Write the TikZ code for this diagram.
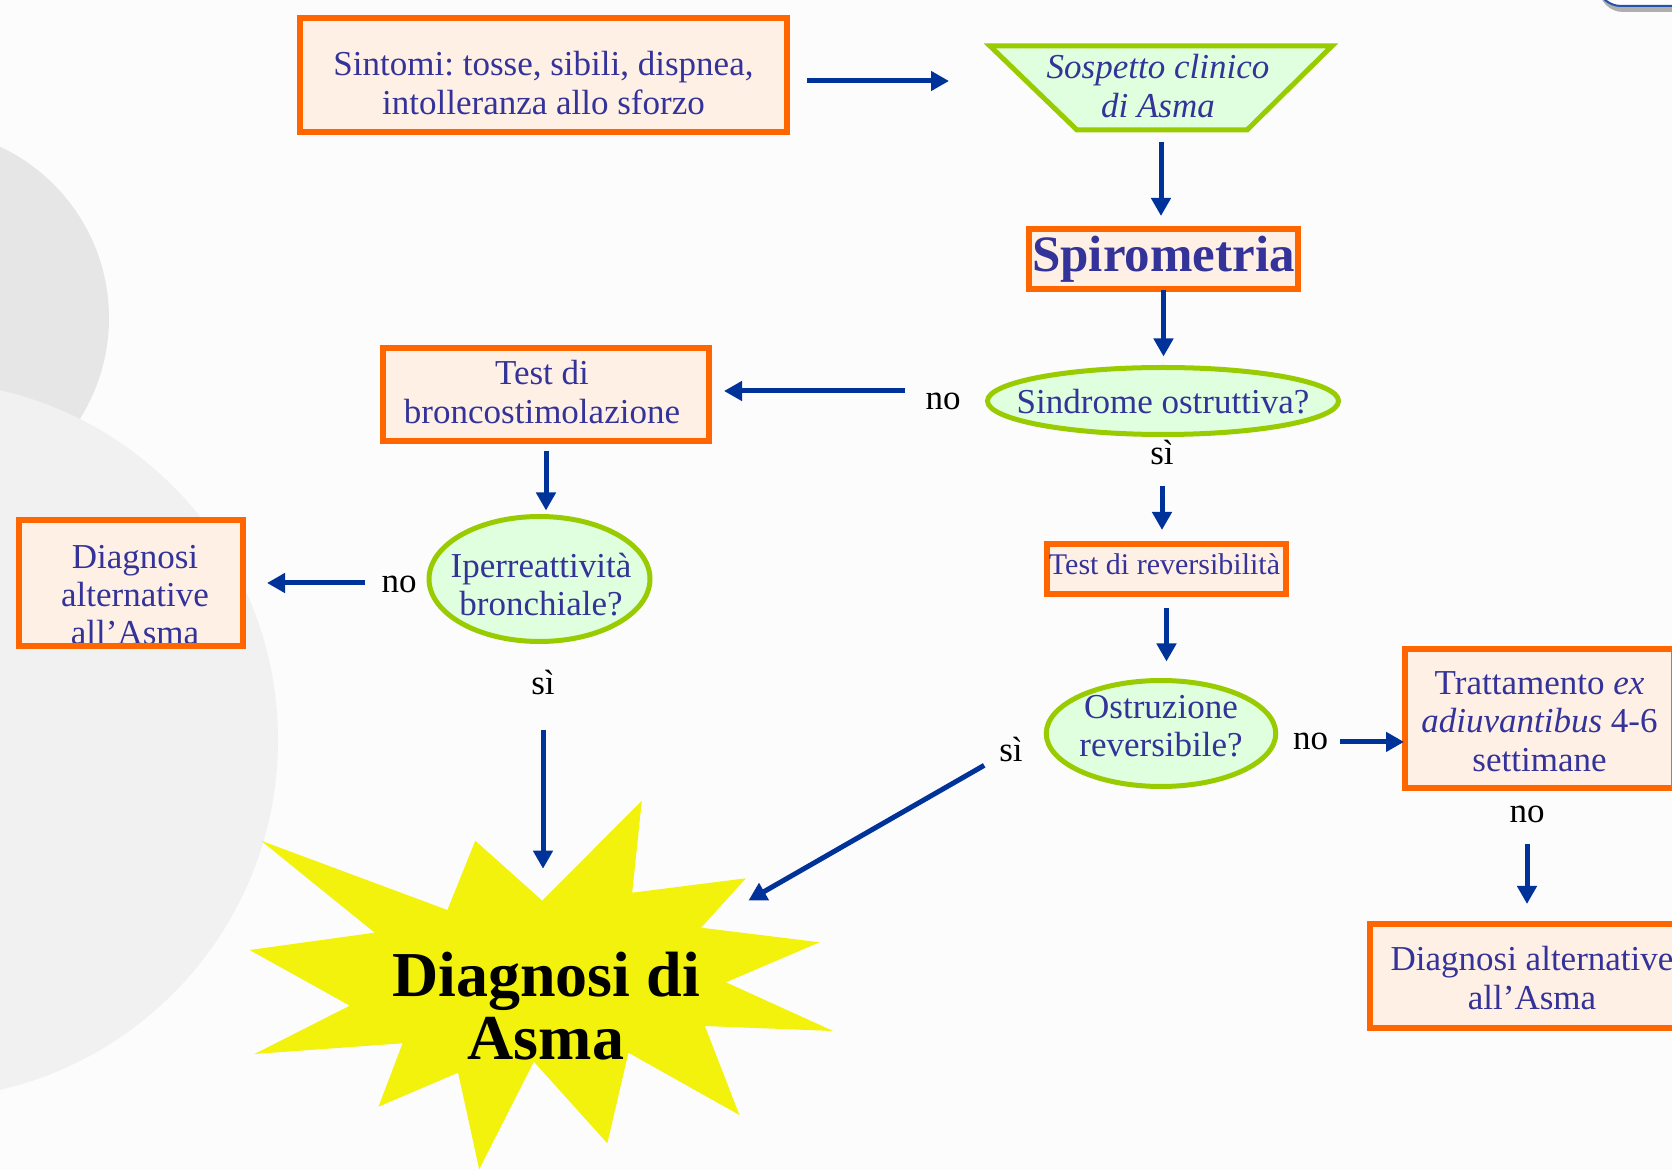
\documentclass[tikz,border=0pt]{standalone}
\usepackage{fontspec}
\setmainfont{Liberation Serif}
\usetikzlibrary{arrows.meta,shapes.geometric,shadows}
\definecolor{txtblue}{HTML}{333399}
\definecolor{arrblue}{HTML}{003399}
\definecolor{borange}{HTML}{FF6600}
\definecolor{peach}{HTML}{FFF0E6}
\definecolor{lgreen}{HTML}{DFFFDF}
\definecolor{ggreen}{HTML}{99CC00}
\definecolor{burstcol}{HTML}{F2F20C}
\definecolor{bgcol}{HTML}{FCFCFC}
\definecolor{circA}{HTML}{E6E6E6}
\definecolor{circB}{HTML}{F1F1F1}
\frenchspacing
\newcommand\bdfont{\fontsize{17.5}{19.2}\selectfont}
\newcommand\spirofont{\fontsize{25.5}{28}\selectfont\bfseries}
\newcommand\revfont{\fontsize{15}{17}\selectfont}
\newcommand\burstfont{\fontsize{32}{31.5}\selectfont\bfseries}
\begin{document}
\begin{tikzpicture}[x=0.5pt,y=-0.5pt,
  obox/.style={draw=borange, line width=2.75pt, fill=peach, inner sep=0pt, outer sep=0pt, align=center, text=txtblue, font=\bdfont},
  gell/.style={ellipse, draw=ggreen, line width=2.5pt, fill=lgreen, inner sep=0pt, outer sep=0pt},
  tx/.style={align=center, text=txtblue, font=\bdfont, inner sep=0pt},
  lab/.style={font=\bdfont, text=black, inner sep=0pt, anchor=base},
  arr/.style={draw=arrblue, line width=2.5pt, -{Triangle[length=9pt,width=9.5pt]}}
]
% background
\fill[bgcol] (0,0) rectangle (1672,1170);
\useasboundingbox (0,0) rectangle (1672,1170);
\clip (0,0) rectangle (1672,1170);
\fill[circA] (-80,318) circle (189);
\fill[circB] (-81,740) circle (359);
\draw[draw=arrblue!85, line width=1pt, fill=white, rounded corners=12pt,
  drop shadow={shadow xshift=1pt, shadow yshift=-3pt, fill=black, opacity=0.3}]
  (1597,-100) rectangle (1720,6);

% boxes
\node[obox, minimum width=243.5pt, minimum height=57pt] (sint) at (543.5,75) {};
\node[tx] at (543.5,83) {Sintomi: tosse, sibili, dispnea,\\intolleranza allo sforzo};

\node[minimum width=171pt, minimum height=42pt, inner sep=0pt, outer sep=0pt] (sosp) at (1161,88) {};
\filldraw[draw=ggreen, fill=lgreen, line width=2.5pt, line join=miter]
  (sosp.north west) -- (sosp.north east) -- ([xshift=-42.5pt]sosp.south east)
  -- ([xshift=43.5pt]sosp.south west) -- cycle;
\node[tx, font=\bdfont\itshape] at (1158,86) {Sospetto clinico\\di Asma};

\node[obox, font=\spirofont, minimum width=134.5pt, minimum height=30pt] (spiro) at (1163.5,259) {Spirometria};

\node[gell, minimum width=175.5pt, minimum height=33.5pt] (sind) at (1163,401) {};
\node[tx] at (1163,402) {Sindrome ostruttiva?};

\node[obox, minimum width=163pt, minimum height=46.5pt] (bronco) at (546,394.5) {};
\node[tx] at (542,392) {Test di\\broncostimolazione};

\node[gell, minimum width=110.5pt, minimum height=62.5pt] (iper) at (539.5,579) {};
\node[tx] at (541,584.5) {Iperreattività\\bronchiale?};

\node[obox, minimum width=112pt, minimum height=63pt] (alt1) at (131,583) {};
\node[tx] at (135,595) {Diagnosi\\alternative\\all’Asma};
\draw[draw=borange, line width=2.75pt] (alt1.south west) rectangle (alt1.north east);

\node[obox, minimum width=119.5pt, minimum height=25pt] (rev) at (1166.5,569) {};
\node[tx, font=\revfont] at (1164.5,564) {Test di reversibilità};

\node[gell, minimum width=114.75pt, minimum height=53pt] (ostr) at (1161,733.5) {};
\node[tx] at (1161,726) {Ostruzione\\reversibile?};

\node[obox, minimum width=134.5pt, minimum height=69.5pt] (tratt) at (1539.5,718.5) {};
\node[tx] at (1539.5,721.5) {Trattamento \textit{ex}\\\textit{adiuvantibus} 4-6\\settimane};

\node[obox, minimum width=162pt, minimum height=52pt] (alt2) at (1532,976) {};
\node[tx] at (1532,978) {Diagnosi alternative\\all’Asma};

% starburst
\fill[burstcol] (261,840.7) coordinate (b1) -- (374.7,932.7) coordinate (b2)
  -- (249.6,950) coordinate (b3) -- (349.8,1005.7) coordinate (b4)
  -- (254.5,1054) coordinate (b5) -- (402.6,1043.3) coordinate (b6)
  -- (378.5,1106.7) coordinate (b7) -- (458.1,1072.7) coordinate (b8)
  -- (479.2,1169.3) coordinate (b9) -- (533.9,1061.7) coordinate (b10)
  -- (607.3,1143.3) coordinate (b11) -- (628.4,1052.7) coordinate (b12)
  -- (739.4,1115) coordinate (b13) -- (704.9,1026) coordinate (b14)
  -- (833.1,1031) coordinate (b15) -- (726,982.3) coordinate (b16)
  -- (819.7,942.3) coordinate (b17) -- (701.1,927.7) coordinate (b18)
  -- (745.9,878.3) coordinate (b19) -- (632.2,892.7) coordinate (b20)
  -- (641.8,800.7) coordinate (b21) -- (542.3,900.7) coordinate (b22)
  -- (475.3,840.7) coordinate (b23) -- (447.4,910) coordinate (b24) -- cycle;
\node[font=\burstfont, align=center, text=black, inner sep=0pt] (diag) at (546,1006) {Diagnosi di\\Asma};

% labels
\node[lab] (no1) at (943,410) {no};
\node[lab] (no2) at (399,593) {no};
\node[lab] (si1) at (543,695) {sì};
\node[lab] (si2) at (1162,465) {sì};
\node[lab] (si3) at (1011,762) {sì};
\node[lab] (no3) at (1310.5,750) {no};
\node[lab] (no4) at (1527,823) {no};

% connectors
\draw[arr, shorten <=10pt, shorten >=20.5pt] ([yshift=-3pt]sint.east) -- ([yshift=-3pt]sint.east -| sosp.west);
\draw[arr, shorten <=6pt, shorten >=6.5pt] (sosp.south) -- (sosp.south |- spiro.north);
\draw[arr, shorten <=0.5pt, shorten >=5.5pt] (spiro.south) -- (spiro.south |- sind.north);
\draw[arr, shorten <=10pt, shorten >=7.5pt] ([yshift=1.75pt]bronco.east -| no1.west) -- ([yshift=1.75pt]bronco.east);
\draw[arr, shorten <=5pt, shorten >=3pt] (bronco.south) -- (bronco.south |- iper.north);
\draw[arr, shorten <=8.25pt, shorten >=12pt] (alt1.east -| no2.west) -- (alt1.east);
\draw[arr, shorten <=17pt, shorten >=16pt] (si1.south) -- (si1.south |- b22);
\draw[arr, shorten <=10pt, shorten >=7pt] (si2.south) -- (si2.south |- rev.north);
\draw[arr, shorten <=7pt, shorten >=9.5pt] (rev.south) -- (rev.south |- ostr.north);
\draw[arr, shorten <=8.5pt, shorten >=27.3pt] (si3) -- (b18);
\draw[arr, shorten <=6pt, shorten >=0.5pt] (no3.east) -- (no3.east -| tratt.west);
\draw[arr, shorten <=10pt, shorten >=10pt] (no4.south) -- (no4.south |- alt2.north);
\end{tikzpicture}
\end{document}
